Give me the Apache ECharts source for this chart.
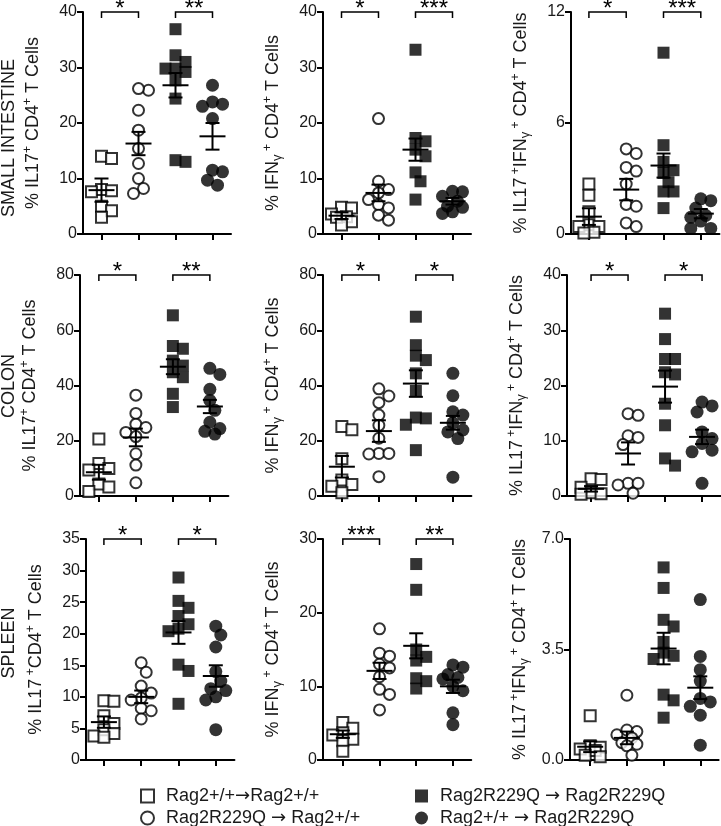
<!DOCTYPE html>
<html><head><meta charset="utf-8">
<script src="https://cdn.jsdelivr.net/npm/echarts@6/dist/echarts.min.js"></script>
<style>html,body{margin:0;padding:0;background:#fff}#c{width:721px;height:826px}</style>
</head><body><div id="c"></div>
<script>
// ---------- DATA ----------
const groupNames = ['Rag2+/+\u2192Rag2+/+', 'Rag2R229Q \u2192 Rag2+/+', 'Rag2R229Q \u2192 Rag2R229Q', 'Rag2+/+ \u2192 Rag2R229Q'];
const rowLabels = ['SMALL INTESTINE', 'COLON', 'SPLEEN'];
const yMax = [40, 40, 12, 80, 80, 40, 35, 30, 7];
const yInterval = [10, 10, 6, 20, 20, 10, 5, 10, 3.5];
const yDecimals = [0, 0, 0, 0, 0, 0, 0, 0, 1];

const siIL17 = [
  [14.0, 13.6, 8.0, 7.6, 7.8, 5.0, 4.2, 3.0],
  [25.9, 26.2, 22.3, 18.7, 15.4, 12.7, 10.0, 8.2, 7.3],
  [36.9, 32.2, 31.0, 29.8, 29.8, 29.2, 27.7, 24.4, 13.0, 13.3],
  [26.8, 23.8, 23.4, 23.0, 20.8, 11.5, 11.2, 9.7, 8.8]
];
const siIFNg = [
  [4.8, 4.7, 3.6, 3.1, 3.0, 2.2, 1.6],
  [20.8, 9.5, 8.0, 7.4, 6.2, 5.3, 4.7, 3.4, 2.5],
  [33.2, 17.3, 16.7, 15.2, 14.0, 11.1, 9.5, 6.2],
  [7.7, 7.6, 6.8, 5.9, 5.0, 4.8, 4.0, 3.7]
];
const siDouble = [
  [2.7, 2.1, 1.2, 0.5, 0.4, 0.4, 0.1, 0.05],
  [4.6, 4.35, 3.6, 3.4, 2.7, 1.6, 1.5, 0.6, 0.4],
  [9.8, 4.8, 3.9, 3.45, 3.3, 2.8, 2.3, 2.3, 1.4],
  [1.9, 1.8, 1.4, 1.0, 0.9, 0.7, 0.3, 0.3]
];
const colonIL17 = [
  [20.6, 11.8, 10.0, 9.4, 4.3, 3.3, 1.6],
  [36.5, 29.9, 26.0, 24.8, 23.0, 21.5, 15.3, 11.2, 4.8],
  [65.4, 54.3, 53.3, 49.0, 47.2, 44.8, 43.0, 37.0, 32.2],
  [46.2, 44.0, 38.6, 34.6, 31.0, 26.7, 24.4, 23.4, 22.4]
];
const colonIFNg = [
  [25.2, 24.0, 13.5, 5.8, 4.2, 3.5, 1.2],
  [38.8, 36.2, 33.8, 29.3, 25.6, 20.9, 15.4, 15.2, 15.4, 7.0],
  [64.9, 54.6, 50.8, 49.2, 44.4, 38.0, 28.4, 28.1, 25.8, 16.6],
  [44.4, 36.3, 30.5, 29.3, 26.5, 23.9, 23.2, 20.8, 6.8]
];
const colonDouble = [
  [3.1, 3.0, 1.6, 0.6, 0.4, 0.3],
  [14.9, 14.6, 10.9, 10.6, 9.3, 2.3, 2.3, 2.0, 0.5],
  [33.0, 28.4, 24.8, 24.8, 22.4, 22.0, 16.7, 12.8, 6.8, 5.5],
  [17.0, 16.3, 15.2, 11.6, 10.4, 9.5, 8.3, 8.0, 2.3]
];
const spleenIL17 = [
  [9.4, 9.3, 7.0, 5.8, 4.8, 4.2, 3.8, 3.6],
  [15.4, 13.9, 11.7, 10.6, 9.8, 9.5, 8.2, 7.8, 6.5],
  [28.9, 25.2, 24.1, 22.8, 21.5, 20.8, 20.4, 15.1, 14.1, 8.9],
  [21.2, 19.8, 17.9, 14.0, 12.5, 11.3, 11.0, 10.0, 9.5, 4.8]
];
const spleenIFNg = [
  [5.1, 4.3, 3.7, 3.4, 2.8, 2.6, 1.2],
  [17.8, 14.5, 14.1, 13.0, 12.5, 11.3, 9.6, 8.9, 6.8],
  [26.6, 23.1, 15.0, 14.0, 13.5, 11.1, 10.7, 9.7],
  [12.9, 12.6, 11.6, 11.2, 11.0, 10.0, 9.4, 6.4, 4.8]
];
const spleenDouble = [
  [1.4, 0.45, 0.4, 0.35, 0.3, 0.15, 0.1],
  [2.05, 0.95, 0.9, 0.8, 0.7, 0.55, 0.5, 0.45, 0.15],
  [6.1, 5.45, 4.44, 4.23, 3.74, 3.4, 3.3, 3.2, 2.07, 1.89, 1.34],
  [5.08, 3.28, 2.86, 2.5, 1.95, 1.84, 1.7, 1.42, 0.47]
];
const panelData = [siIL17, siIFNg, siDouble, colonIL17, colonIFNg, colonDouble, spleenIL17, spleenIFNg, spleenDouble];

// group means and SEM as drawn
const means = [
  [7.9, 16.3, 26.8, 17.6], [3.3, 7.4, 15.2, 5.9], [0.94, 2.4, 3.7, 1.1],
  [8.6, 21.2, 46.8, 32.4], [10.6, 23.5, 40.7, 26.5], [1.3, 7.7, 19.8, 10.7],
  [6.0, 10.0, 20.2, 13.3], [3.5, 12.1, 15.5, 10.0], [0.42, 0.7, 3.53, 2.29]
];
const sems = [
  [2.1, 2.1, 2.2, 2.4], [0.6, 1.5, 2.0, 0.6], [0.45, 0.58, 0.65, 0.25],
  [2.7, 3.2, 2.7, 2.4], [3.9, 3.9, 4.8, 2.5], [0.5, 2.0, 2.9, 1.3],
  [0.9, 1.0, 1.8, 1.7], [0.5, 1.1, 1.7, 0.9], [0.17, 0.2, 0.5, 0.36]
];
const sigLabels = [
  ['*', '**'], ['*', '***'], ['*', '***'],
  ['*', '**'], ['*', '*'], ['*', '*'],
  ['*', '*'], ['***', '**'], []
];
const axisNames = [
  '{n|% IL17}{sup|+}{n| CD4}{sup|+}{n| T Cells}',
  '{n|% IFN}{sub|\u03b3}{sup| +}{n| CD4}{sup|+}{n| T Cells}',
  '{n|% IL17}{sup| +}{n|IFN}{sub|\u03b3}{sup| +}{n| CD4}{sup|+}{n| T Cells}',
  '{n|% IL17}{sup|+}{n| CD4}{sup|+}{n| T Cells}',
  '{n|% IFN}{sub|\u03b3}{sup| +}{n| CD4}{sup|+}{n| T Cells}',
  '{n|% IL17}{sup| +}{n|IFN}{sub|\u03b3}{sup| +}{n| CD4}{sup|+}{n| T Cells}',
  '{n|% IL17}{sup| +}{n|CD4}{sup|+}{n| T Cells}',
  '{n|% IFN}{sub|\u03b3}{sup| +}{n| CD4}{sup|+}{n| T Cells}',
  '{n|% IL17}{sup| +}{n|IFN}{sub|\u03b3}{sup| +}{n| CD4}{sup|+}{n| T Cells}'
];

// ---------- LAYOUT ----------
const FONT = 'Liberation Sans, Arial, sans-serif';
const gridLeft = [83, 323, 571, 80, 323, 567, 86, 323, 570];
const gridTop = [12, 12, 12, 275, 275, 275, 539, 539, 539];
const gridH = [222, 222, 222, 221, 221, 221, 221, 221, 221];
const xMinArr = [0.5, 0.5, 0.52, 0.49, 0.49, 0.35, 0.52, 0.46, 0.45];
const xSpacing = [37, 37, 37.3, 37, 37, 37, 37.3, 36.7, 36.7];
const rowCenters = [138, 386, 643];

const symbols = ['rect', 'circle', 'rect', 'circle'];
const symSizes = [11, 11, 12, 13];
const itemStyles = [
  { color: '#fff', borderColor: '#000', borderWidth: 2 },
  { color: '#fff', borderColor: '#000', borderWidth: 2 },
  { color: '#000' },
  { color: '#000' }
];

// simple beeswarm spreading (derived from the values)
function swarm(values, pxPerUnit, spacing, center) {
  const order = values.map((v, i) => i).sort((a, b) => values[b] - values[a]);
  const placed = [];
  const out = new Array(values.length);
  const step = 5, minD = 10;
  order.forEach(i => {
    const py = values[i] * pxPerUnit;
    const cands = [0, step, -step, 2 * step, -2 * step];
    let best = 0, bestScore = -1;
    for (const off of cands) {
      let md = Infinity;
      for (const q of placed) { const d = Math.hypot(q[0] - off, q[1] - py); if (d < md) md = d; }
      if (md >= minD) { best = off; break; }
      if (md > bestScore) { bestScore = md; best = off; }
    }
    placed.push([best, py]);
    out[i] = [center + best / spacing, values[i]];
  });
  return out;
}

function meanRender(params, api) {
  const x = api.value(0), m = api.value(1), s = api.value(2);
  const c = api.coord([x, m]), t = api.coord([x, m + s]), b = api.coord([x, m - s]);
  const st = { stroke: '#000', lineWidth: 2, fill: 'none' };
  return {
    type: 'group', children: [
      { type: 'line', shape: { x1: c[0] - 13, y1: c[1], x2: c[0] + 13, y2: c[1] }, style: st },
      { type: 'line', shape: { x1: c[0], y1: t[1], x2: c[0], y2: b[1] }, style: st },
      { type: 'line', shape: { x1: c[0] - 7, y1: t[1], x2: c[0] + 7, y2: t[1] }, style: st },
      { type: 'line', shape: { x1: c[0] - 7, y1: b[1], x2: c[0] + 7, y2: b[1] }, style: st }
    ]
  };
}
function makeBracketRender(p) {
  return function (params, api) {
    const a = api.coord([api.value(0), yMax[p]]);
    const b = api.coord([api.value(1), yMax[p]]);
    const label = sigLabels[p][params.dataIndex];
    return {
      type: 'group', children: [
        { type: 'polyline', shape: { points: [[a[0], a[1] + 6], [a[0], a[1]], [b[0], b[1]], [b[0], b[1] + 6]] },
          style: { stroke: '#000', lineWidth: 1.5, fill: 'none' } },
        { type: 'text', x: (a[0] + b[0]) / 2, y: a[1] - 3,
          style: { text: label, fontSize: 24, fontFamily: FONT, fill: '#000', align: 'center', verticalAlign: 'middle' } }
      ]
    };
  };
}

const grids = [], xAxes = [], yAxes = [], series = [];
for (let p = 0; p < 9; p++) {
  const w = (4.5 - xMinArr[p]) * xSpacing[p];
  grids.push({ left: gridLeft[p], top: gridTop[p], width: w, height: gridH[p] });
  xAxes.push({
    gridIndex: p, type: 'value', min: xMinArr[p], max: 4.5,
    axisLine: { show: true, onZero: false, lineStyle: { color: '#000', width: 2 } },
    axisTick: { show: true, customValues: [1, 2, 3, 4], length: 6, lineStyle: { color: '#000', width: 2 } },
    axisLabel: { show: false }, splitLine: { show: false }
  });
  const dec = yDecimals[p];
  yAxes.push({
    gridIndex: p, type: 'value', min: 0, max: yMax[p], interval: yInterval[p],
    axisLine: { show: true, lineStyle: { color: '#000', width: 2 } },
    axisTick: { show: true, length: 6, lineStyle: { color: '#000', width: 2 } },
    axisLabel: { color: '#1a1a1a', fontSize: 16, fontFamily: FONT, margin: 6,
      formatter: v => Number(v).toFixed(dec) },
    splitLine: { show: false },
    name: axisNames[p], nameLocation: 'middle', nameGap: 39, nameRotate: 90,
    nameTextStyle: {
      rich: {
        n: { fontSize: 18, fontFamily: FONT, color: '#1a1a1a', lineHeight: 22 },
        sup: { fontSize: 12, fontFamily: FONT, color: '#1a1a1a', verticalAlign: 'top', lineHeight: 22 },
        sub: { fontSize: 13, fontFamily: FONT, color: '#1a1a1a', verticalAlign: 'bottom', lineHeight: 22 }
      }
    }
  });
  const pxPerUnit = gridH[p] / yMax[p];
  for (let g = 0; g < 4; g++) {
    series.push({
      type: 'scatter', name: groupNames[g], xAxisIndex: p, yAxisIndex: p,
      symbol: symbols[g], symbolSize: symSizes[g], itemStyle: itemStyles[g],
      clip: false, silent: true, z: 2,
      data: swarm(panelData[p][g], pxPerUnit, xSpacing[p], g + 1)
    });
  }
  series.push({
    type: 'custom', xAxisIndex: p, yAxisIndex: p, z: 4, silent: true, clip: false,
    renderItem: meanRender,
    data: means[p].map((m, g) => [g + 1, m, sems[p][g]])
  });
  if (sigLabels[p].length) {
    series.push({
      type: 'custom', xAxisIndex: p, yAxisIndex: p, z: 4, silent: true, clip: false,
      renderItem: makeBracketRender(p),
      data: [[1, 2], [3, 4]]
    });
  }
}

const legendLeft = [135, 135, 410, 410];
const legendTop = [782, 804, 782, 804];
const legends = groupNames.map((name, g) => ({
  left: legendLeft[g], top: legendTop[g], orient: 'horizontal',
  itemWidth: 13, itemHeight: 13, selectedMode: false,
  formatter: n => n.split('\u2192').map(s => '{t|' + s + '}').join('{ar|\u2192}'),
  textStyle: {
    fontSize: 18, fontFamily: FONT, color: '#1a1a1a', padding: [0, 0, 0, 7],
    rich: {
      t: { fontSize: 18, fontFamily: FONT, color: '#1a1a1a' },
      ar: { fontSize: 18, fontFamily: 'DejaVu Sans', color: '#1a1a1a' }
    }
  },
  data: [name]
}));

const option = {
  animation: false,
  backgroundColor: '#fff',
  grid: grids, xAxis: xAxes, yAxis: yAxes, series: series,
  legend: legends,
  graphic: rowLabels.map((t, r) => ({
    type: 'text', x: 9, y: rowCenters[r], rotation: Math.PI / 2,
    style: { text: t, fontSize: 18, fontFamily: FONT, fill: '#1a1a1a', align: 'center', verticalAlign: 'middle' }
  }))
};
const chart = echarts.init(document.getElementById('c'), null, { renderer: 'canvas' });
chart.setOption(option);
</script>
</body></html>
